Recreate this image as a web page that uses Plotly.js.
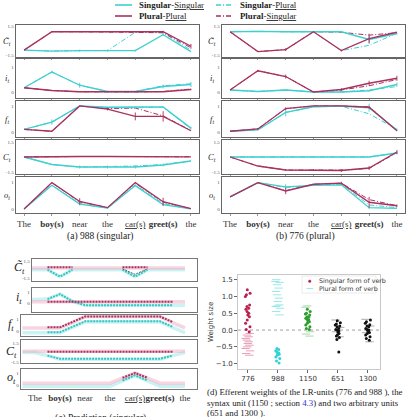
<!DOCTYPE html>
<html>
<head>
<meta charset="utf-8">
<script src="https://cdn.plot.ly/plotly-3.0.1.min.js"></script>
<style>html,body{margin:0;padding:0;background:#fff;overflow:hidden}</style>
</head>
<body>
<div id="fig" style="width:407px;height:417px"></div>
<script>
// ---------- sentence positions ----------
const words = ['The', '<b>boy(s)</b>', 'near', 'the', '<u>car(s)</u>', '<b>greet(s)</b>', 'the'];
const steps = [0, 1, 2, 3, 4, 5, 6];
const gateNames = ['<i>C\u0303<sub>t</sub></i>', '<i>i<sub>t</sub></i>', '<i>f<sub>t</sub></i>', '<i>C<sub>t</sub></i>', '<i>o<sub>t</sub></i>'];

// ---------- (a) unit 988 (singular) ----------
const aCtilSS = [-1.0, -1.1, -1.05, -1.05, -1.05, 0.6, -1.15];
const aCtilSP = [-1.0, -1.1, -1.05, -1.05, 0.85, 0.8, -1.0];
const aCtilPP = [-1.0, 0.9, 0.9, 0.9, 0.9, 0.9, -0.6];
const aCtilPS = [-1.0, 0.9, 0.9, 0.85, 0.85, 0.8, -0.75];
const aItSS = [0.17, 0.8, 0.27, 0.02, 0.02, 0.22, 0.3];
const aItSP = [0.17, 0.8, 0.27, 0.02, 0.02, 0.25, 0.33];
const aItPP = [0.17, 0.06, 0.01, 0.0, 0.0, 0.01, 0.1];
const aItPS = [0.17, 0.06, 0.01, 0.0, 0.0, 0.02, 0.12];
const aFtSS = [0.1, 0.38, 1.0, 0.95, 0.96, 0.96, 0.15];
const aFtSP = [0.1, 0.38, 1.0, 0.93, 0.93, 0.95, 0.12];
const aFtPP = [0.1, 0.03, 1.0, 0.88, 0.6, 0.6, 0.05];
const aFtPS = [0.1, 0.03, 1.0, 0.9, 0.92, 0.62, 0.06];
const aCtSS = [0.0, -0.75, -1.0, -1.0, -1.0, -0.8, -0.4];
const aCtSP = [0.0, -0.75, -1.0, -0.98, -0.9, -0.75, -0.38];
const aCtPP = [0.0, 0.05, 0.05, 0.05, 0.05, 0.05, 0.02];
const aCtPS = [0.0, 0.05, 0.05, 0.05, 0.03, 0.03, 0.02];
const aOtSS = [0.0, 0.88, 0.18, 0.03, 0.87, 0.16, 0.0];
const aOtSP = [0.0, 0.88, 0.2, 0.03, 0.9, 0.2, 0.0];
const aOtPP = [0.0, 0.98, 0.28, 0.05, 0.98, 0.27, 0.01];
const aOtPS = [0.0, 0.98, 0.26, 0.05, 0.96, 0.25, 0.01];
// spread of the solid curves
const aCtilErrSS = [0, 0, 0.12, 0.1, 0.1, 0.15, 0];
const aCtilErrPP = [0, 0, 0, 0, 0, 0.1, 0.25];
const aItErrSS = [0, 0.05, 0.1, 0, 0, 0.08, 0.1];
const aItErrPP = [0, 0, 0, 0, 0, 0, 0.03];
const aFtErrSS = [0, 0.1, 0, 0, 0, 0, 0.05];
const aFtErrPP = [0, 0, 0, 0.05, 0.15, 0.2, 0];
const aCtErrSS = [0, 0, 0.15, 0.15, 0.15, 0.15, 0];
const aCtErrPP = [0, 0, 0, 0, 0, 0, 0];
const aOtErrSS = [0, 0, 0.05, 0, 0, 0.05, 0];
const aOtErrPP = [0, 0, 0.12, 0, 0, 0.15, 0];

// ---------- (b) unit 776 (plural) ----------
const bCtilSS = [0.9, 0.95, 0.9, 0.9, 0.9, 0.1, 0.7];
const bCtilSP = [0.9, 0.95, 0.9, 0.9, -1.05, -0.5, 0.75];
const bCtilPP = [0.9, -1.15, -0.95, 0.9, -1.05, 0.2, 0.85];
const bCtilPS = [0.9, -1.15, -0.95, 0.9, 0.85, 0.55, 0.8];
const bItSS = [0.08, 0.02, 0.08, 0.0, 0.0, 0.05, 0.3];
const bItSP = [0.08, 0.02, 0.08, 0.0, 0.0, 0.08, 0.22];
const bItPP = [0.08, 0.85, 0.62, 0.0, 0.1, 0.35, 0.55];
const bItPS = [0.08, 0.85, 0.62, 0.0, 0.08, 0.25, 0.5];
const bFtSS = [0.03, 0.08, 0.75, 0.97, 0.99, 0.93, 0.08];
const bFtSP = [0.03, 0.08, 0.75, 0.97, 0.99, 0.7, 0.1];
const bFtPP = [0.03, 0.12, 0.9, 1.0, 1.0, 0.95, 0.05];
const bFtPS = [0.03, 0.12, 0.9, 1.0, 1.0, 0.97, 0.05];
const bCtSS = [0.0, 0.0, 0.0, 0.0, 0.0, 0.0, 0.4];
const bCtSP = [0.0, 0.0, 0.0, 0.0, 0.0, 0.02, 0.35];
const bCtPP = [0.0, -0.9, -1.3, -1.3, -1.35, -1.1, 0.5];
const bCtPS = [0.0, -0.9, -1.3, -1.3, -1.3, -1.15, 0.45];
const bOtSS = [0.45, 0.98, 0.82, 0.88, 0.9, 0.05, 0.02];
const bOtSP = [0.45, 0.98, 0.8, 0.88, 0.92, 0.15, 0.05];
const bOtPP = [0.45, 0.98, 0.67, 0.92, 0.96, 0.25, 0.12];
const bOtPS = [0.45, 0.98, 0.68, 0.92, 0.96, 0.35, 0.12];
const bCtilErrSS = [0, 0, 0, 0, 0, 0.4, 0.1];
const bCtilErrPP = [0, 0, 0.15, 0, 0.1, 0.5, 0];
const bItErrSS = [0, 0, 0.03, 0, 0, 0.04, 0.08];
const bItErrPP = [0, 0.04, 0.08, 0, 0.06, 0.1, 0.1];
const bFtErrSS = [0, 0, 0.15, 0, 0, 0.15, 0.05];
const bFtErrPP = [0, 0.03, 0.05, 0, 0, 0.05, 0];
const bCtErrSS = [0, 0, 0, 0, 0, 0, 0.15];
const bCtErrPP = [0, 0, 0.1, 0.1, 0.15, 0.2, 0.2];
const bOtErrSS = [0, 0, 0.1, 0, 0, 0.05, 0];
const bOtErrPP = [0, 0, 0.12, 0, 0.05, 0.2, 0.05];

// ---------- (c) predicted pattern (singular), half-word steps ----------
const cSteps = [-0.5, 0, 0.5, 1, 1.5, 2, 2.5, 3, 3.5, 4, 4.5, 5, 5.5, 6];
const cCtilPinkBase = [0.25, 0.25, 0.25, 0.25, 0.25, 0.25, 0.25, 0.25, 0.25, 0.25, 0.25, 0.25, 0.25, 0.25];
const cCtilCyanBase = [-0.05, -0.05, -0.05, -1.25, -0.05, -0.05, -0.05, -0.05, -0.05, -1.25, -0.05, -0.05, -0.05, -0.05];
const cCtilPlural = [null, null, 0.4, 0.4, 0.4, null, null, null, 0.4, 0.4, 0.4, null, null, null];
const cCtilSingular = [null, null, -0.05, -1.25, -0.05, null, null, null, -0.05, -1.25, -0.05, null, null, null];
const cCtilMixed = [null, null, null, null, null, null, null, null, 0.1, -0.85, 0.1, null, null, null];
const cItPinkBase = [0.1, 0.1, 0.1, 0.1, 0.1, 0.1, 0.1, 0.1, 0.1, 0.1, 0.1, 0.1, 0.1, 0.1];
const cItCyanBase = [0.3, 0.3, 0.35, 0.8, 0.15, -0.2, -0.2, -0.2, -0.2, -0.2, -0.2, -0.2, -0.2, -0.2];
const cItPlural = [null, null, 0.12, 0.12, 0.12, 0.12, 0.12, 0.12, 0.12, 0.12, 0.12, 0.12, 0.12, null];
const cItSingular = [null, null, 0.35, 0.8, 0.15, -0.2, -0.2, -0.2, -0.2, -0.2, -0.2, -0.2, -0.2, null];
const cFtPinkBase = [0.25, 0.25, 0.25, 0.25, 0.7, 1.2, 1.2, 1.2, 1.2, 1.2, 1.2, 1.2, 0.7, 0.25];
const cFtCyanBase = [-0.15, -0.15, -0.15, -0.15, 0.3, 0.75, 0.75, 0.75, 0.75, 0.75, 0.75, 0.75, 0.3, -0.15];
const cFtPlural = [null, null, 0.3, 0.3, 0.75, 1.2, 1.2, 1.2, 1.2, 1.2, 1.2, 1.2, 0.75, null];
const cFtSingular = [null, null, -0.1, -0.1, 0.35, 0.8, 0.8, 0.8, 0.8, 0.8, 0.8, 0.8, 0.35, null];
const cCtPinkBase = [0.2, 0.2, 0.2, 0.2, 0.2, 0.2, 0.2, 0.2, 0.2, 0.2, 0.2, 0.2, 0.2, 0.2];
const cCtCyanBase = [0, 0, -0.5, -1.05, -1.05, -1.05, -1.05, -1.05, -1.05, -1.05, -1.05, -1.05, -0.5, 0];
const cCtPlural = [null, null, 0.1, 0.1, 0.1, 0.1, 0.1, 0.1, 0.1, 0.1, 0.1, 0.1, 0.1, null];
const cCtSingular = [null, null, -0.5, -1.0, -1.0, -1.0, -1.0, -1.0, -1.0, -1.0, -1.0, -1.0, -0.5, null];
const cOtPinkBase = [0.15, 0.15, 0.15, 0.15, 0.15, 0.15, 0.15, 0.15, 0.58, 1.0, 0.58, 0.15, 0.15, 0.15];
const cOtCyanBase = [-0.1, -0.1, -0.1, -0.1, -0.1, -0.1, -0.1, -0.1, 0.35, 0.8, 0.35, -0.1, -0.1, -0.1];
const cOtPlural = [null, null, null, null, null, null, null, null, 0.6, 1.0, 0.6, null, null, null];
const cOtSingular = [null, null, null, null, null, null, null, null, 0.38, 0.8, 0.38, null, null, null];

// ---------- (d) efferent weights ----------
const dUnits = ['776', '988', '1150', '651', '1300'];
const d776Sing = [1.2, 1.1, 1.05, 1.0, 0.75, 0.7, 0.65, 0.62, 0.55, 0.5, 0.45, 0.4, 0.3, 0.2, 0.1, 0.02, -0.05];
const d776Plur = [-0.1, -0.15, -0.2, -0.25, -0.3, -0.35, -0.4, -0.45, -0.5, -0.55, -0.62, -0.7, -0.75];
const d988Sing = [-0.55, -0.58, -0.62, -0.65, -0.68, -0.7, -0.72, -0.75, -0.8, -0.85, -0.92, -0.98];
const d988Plur = [1.5, 1.45, 1.42, 1.35, 1.25, 1.15, 1.05, 0.95, 0.85, 0.75, 0.72, 0.7, 0.65, 0.55, 0.45];
const d1150Sing = [0.62, 0.55, 0.5, 0.48, 0.45, 0.4, 0.38, 0.35, 0.32, 0.3, 0.28, 0.25, 0.2, 0.15, 0.1, 0.05, 0.02];
const d1150Plur = [0.72, 0.68, -0.05, -0.12, -0.18];
const d651Sing = [0.28, 0.22, 0.18, 0.15, 0.12, 0.1, 0.05, 0.02, 0.0, -0.03, -0.06, -0.1, -0.14, -0.18, -0.22, -0.28, -0.65];
const d651Plur = [0.3, 0.08, -0.05, -0.2];
const d1300Sing = [0.3, 0.25, 0.2, 0.16, 0.12, 0.1, 0.05, 0.02, 0.0, -0.03, -0.07, -0.1, -0.15, -0.2, -0.25, -0.3];
const d1300Plur = [0.32, 0.12, -0.08, -0.35];

// ---------- drawing ----------
const W = 407, H = 417;
const px = v => v / W;
const py = v => 1 - v / H;
const SERIF = '"Liberation Serif", "DejaVu Serif", serif';
const SANS = '"DejaVu Sans", sans-serif';
const CYAN = '#3fcfcf';
const MAROON = '#a8315e';
const DASHDOT = '5px,2px,1px,2px';

const traces = [];
const layout = {
  width: W, height: H,
  margin: {l: 0, r: 0, t: 0, b: 0},
  paper_bgcolor: '#fff', plot_bgcolor: '#fff',
  showlegend: false, boxmode: 'overlay',
  shapes: [], annotations: []
};

let axisCount = 0;
function makeAxes(x0, x1, y0, y1, xr, yr, xopt, yopt) {
  axisCount++;
  const s = axisCount === 1 ? '' : String(axisCount);
  layout['xaxis' + s] = Object.assign({
    domain: [px(x0), px(x1)], range: xr, anchor: 'y' + s, showgrid: false, zeroline: false,
    showline: true, mirror: true, fixedrange: true, tickangle: 0
  }, xopt);
  layout['yaxis' + s] = Object.assign({
    domain: [py(y1), py(y0)], range: yr, anchor: 'x' + s, showgrid: false, zeroline: false,
    showline: true, mirror: true, fixedrange: true
  }, yopt);
  return {xa: 'x' + s, ya: 'y' + s};
}

function note(text, x, y, size, extra) {
  layout.annotations.push(Object.assign({
    text: text, x: px(x), y: py(y), xref: 'paper', yref: 'paper', showarrow: false,
    font: {family: SERIF, size: size, color: '#222'}, xanchor: 'center', yanchor: 'middle'
  }, extra || {}));
}

// --- gate panels (a) and (b) ---
const abRows = [
  {top: 25, bot: 57, yr: [-1.71, 1.60], tv: [-1.5, 1.5]},
  {top: 59, bot: 98, yr: [-0.24, 1.32], tv: [0, 1]},
  {top: 101, bot: 137, yr: [-0.19, 1.19], tv: [0, 1]},
  {top: 140, bot: 174, yr: [-1.7, 1.7], tv: [-1.5, 1.5]},
  {top: 177, bot: 213, yr: [-0.15, 1.19], tv: [0, 1]}
];
const panelA = [
  [aCtilSS, aCtilSP, aCtilPP, aCtilPS, aCtilErrSS, aCtilErrPP],
  [aItSS, aItSP, aItPP, aItPS, aItErrSS, aItErrPP],
  [aFtSS, aFtSP, aFtPP, aFtPS, aFtErrSS, aFtErrPP],
  [aCtSS, aCtSP, aCtPP, aCtPS, aCtErrSS, aCtErrPP],
  [aOtSS, aOtSP, aOtPP, aOtPS, aOtErrSS, aOtErrPP]
];
const panelB = [
  [bCtilSS, bCtilSP, bCtilPP, bCtilPS, bCtilErrSS, bCtilErrPP],
  [bItSS, bItSP, bItPP, bItPS, bItErrSS, bItErrPP],
  [bFtSS, bFtSP, bFtPP, bFtPS, bFtErrSS, bFtErrPP],
  [bCtSS, bCtSP, bCtPP, bCtPS, bCtErrSS, bCtErrPP],
  [bOtSS, bOtSP, bOtPP, bOtPS, bOtErrSS, bOtErrPP]
];

function gatePanel(data, left, right, labelX) {
  abRows.forEach((row, r) => {
    const last = r === abRows.length - 1;
    const ax = makeAxes(left, right, row.top, row.bot, [-0.29, 6.29], row.yr,
      {tickvals: steps, ticktext: words, showticklabels: last, ticks: 'outside', ticklen: 2,
       tickcolor: '#999', linecolor: '#666', linewidth: 1.3,
       tickfont: {family: SERIF, size: 9, color: '#333'}},
      {tickvals: row.tv, ticktext: row.tv.map(String), ticks: '', linecolor: '#666', linewidth: 1.3,
       tickfont: {family: SERIF, size: 5, color: '#555'}});
    const [ss, sp, pp, ps, ess, epp] = data[r];
    const base = {x: steps, xaxis: ax.xa, yaxis: ax.ya, mode: 'lines', hoverinfo: 'skip', cliponaxis: false};
    traces.push(Object.assign({}, base, {y: sp, line: {color: CYAN, width: 1, dash: DASHDOT}}));
    traces.push(Object.assign({}, base, {y: ps, line: {color: MAROON, width: 1, dash: DASHDOT}}));
    traces.push(Object.assign({}, base, {y: ss, line: {color: CYAN, width: 1.3},
      error_y: {type: 'data', array: ess, color: CYAN, thickness: 0.9, width: 0}}));
    traces.push(Object.assign({}, base, {y: pp, line: {color: MAROON, width: 1.3},
      error_y: {type: 'data', array: epp, color: MAROON, thickness: 0.9, width: 0}}));
    note(gateNames[r], labelX, (row.top + row.bot) / 2, 8.5);
  });
}
gatePanel(panelA, 16, 199, 7);
gatePanel(panelB, 222, 405, 212);
note('(a) 988 (singular)', 100, 236, 9.5);
note('(b) 776 (plural)', 305, 236, 9.5);

// --- predicted pattern (c) ---
const cRows = [
  {top: 259, bot: 281, left: 32, yr: [-2.03, 1.85], tv: [-1.5, 1.5], ly: 268},
  {top: 288, bot: 312, left: 32, yr: [-0.82, 1.36], tv: [0, 1], ly: 298},
  {top: 315, bot: 336, left: 21, yr: [-0.42, 1.33], tv: [0, 1], ly: 325},
  {top: 340, bot: 363, left: 21, yr: [-1.66, 1.97], tv: [-1.5, 1.5], ly: 352},
  {top: 369, bot: 389, left: 21, yr: [-0.33, 1.33], tv: [0, 1], ly: 378}
];
const panelC = [
  [cCtilPinkBase, cCtilCyanBase, cCtilPlural, cCtilSingular, cCtilMixed],
  [cItPinkBase, cItCyanBase, cItPlural, cItSingular, null],
  [cFtPinkBase, cFtCyanBase, cFtPlural, cFtSingular, null],
  [cCtPinkBase, cCtCyanBase, cCtPlural, cCtSingular, null],
  [cOtPinkBase, cOtCyanBase, cOtPlural, cOtSingular, null]
];
cRows.forEach((row, r) => {
  const last = r === cRows.length - 1;
  const ax = makeAxes(row.left, 197, row.top, row.bot, [(row.left - 35) / 25, (197 - 35) / 25], row.yr,
    {tickvals: steps, ticktext: words, showticklabels: last, ticks: '', linecolor: '#777', linewidth: 1.2,
     tickfont: {family: SERIF, size: 9, color: '#333'}},
    {tickvals: row.tv, ticktext: row.tv.map(String), ticks: '', linecolor: '#777', linewidth: 1.2,
     tickfont: {family: SERIF, size: 5, color: '#555'}});
  const [pinkBase, cyanBase, plural, singular, mixed] = panelC[r];
  const base = {x: cSteps, xaxis: ax.xa, yaxis: ax.ya, mode: 'lines', hoverinfo: 'skip', connectgaps: false};
  traces.push(Object.assign({}, base, {y: cyanBase, line: {color: 'rgba(150,232,232,0.5)', width: 3.5}}));
  traces.push(Object.assign({}, base, {y: pinkBase, line: {color: 'rgba(240,170,192,0.5)', width: 3.5}}));
  traces.push(Object.assign({}, base, {y: singular, line: {color: '#35c4c4', width: 2, dash: '2px,1px'}}));
  traces.push(Object.assign({}, base, {y: plural, line: {color: MAROON, width: 2, dash: '2px,1px'}}));
  if (mixed) traces.push(Object.assign({}, base, {y: mixed, line: {color: '#666', width: 1, dash: '2px,1px'}}));
  note(gateNames[r], r < 2 ? 19 : 11, row.ly, 12);
});
note('(c) Prediction (singular)', 100, 418, 9.5);

// --- efferent weights (d) ---
const ad = makeAxes(238, 380, 275, 369, [-0.33, 4.4], [-1.16, 1.64],
  {type: 'category', categoryorder: 'array', categoryarray: dUnits, showline: true, mirror: true,
   linecolor: '#bbb', linewidth: 0.8, ticks: 'outside', ticklen: 3, tickcolor: '#666',
   tickfont: {family: SANS, size: 7, color: '#333'}},
  {tickvals: [-1, -0.5, 0, 0.5, 1, 1.5], tickformat: '.1f', linecolor: '#bbb', linewidth: 0.8,
   ticks: 'outside', ticklen: 3, tickcolor: '#666', tickfont: {family: SANS, size: 7, color: '#333'}});
const dGroups = [
  [dUnits[0], d776Sing, d776Plur, '#b8204f', '#e8a0b8'],
  [dUnits[1], d988Sing, d988Plur, '#2fd3d6', '#9ae8e8'],
  [dUnits[2], d1150Sing, d1150Plur, '#2e9d2e', '#a8daa8'],
  [dUnits[3], d651Sing, d651Plur, '#111', '#aaa'],
  [dUnits[4], d1300Sing, d1300Plur, '#111', '#aaa']
];
layout.shapes.push({type: 'line', xref: ad.xa + ' domain', yref: ad.ya, x0: 0, x1: 1, y0: 0, y1: 0,
  line: {color: '#888', width: 0.8, dash: 'dot'}, layer: 'below'});
dGroups.forEach(([unit, sing, plur, dotColor, dashColor]) => {
  const boxBase = {type: 'box', xaxis: ad.xa, yaxis: ad.ya, boxpoints: 'all', jitter: 0.4, pointpos: 0,
    fillcolor: 'rgba(0,0,0,0)', line: {width: 0, color: 'rgba(0,0,0,0)'}, whiskerwidth: 0, hoverinfo: 'skip'};
  traces.push(Object.assign({}, boxBase, {x: plur.map(() => unit), y: plur,
    marker: {symbol: 'line-ew', size: 6, color: dashColor, line: {color: dashColor, width: 1}}}));
  traces.push(Object.assign({}, boxBase, {x: sing.map(() => unit), y: sing,
    marker: {symbol: 'circle', size: 3, color: dotColor}}));
});
note('Weight size', 211, 322, 7, {textangle: -90, font: {family: SANS, size: 7, color: '#333'}});

// legend for (d)
layout.shapes.push({type: 'rect', xref: 'paper', yref: 'paper', x0: px(302), x1: px(376), y0: py(293), y1: py(276),
  line: {color: '#ddd', width: 0.6}, fillcolor: 'rgba(255,255,255,0.8)'});
layout.shapes.push({type: 'circle', xref: 'paper', yref: 'paper', x0: px(308.5), x1: px(311), y0: py(282.5), y1: py(280),
  line: {color: '#b8204f', width: 0.5}, fillcolor: '#b8204f'});
layout.shapes.push({type: 'line', xref: 'paper', yref: 'paper', x0: px(306.5), x1: px(313), y0: py(288.5), y1: py(288.5),
  line: {color: '#9ae8e8', width: 1}});
note('Singular form of verb', 317, 281, 6.3, {xanchor: 'left', font: {family: SANS, size: 6.3, color: '#333'}});
note('Plural form of verb', 317, 288.5, 6.3, {xanchor: 'left', font: {family: SANS, size: 6.3, color: '#333'}});

// caption (d)
const capFont = {family: SERIF, size: 8.8, color: '#222'};
note('(d) Efferent weights of the LR-units (776 and 988 ), the', 205, 392, 8.8, {xanchor: 'left', font: capFont});
note('syntax unit (1150 ; section <span style="color:#3333cc">4.3</span>) and two arbitrary units', 205, 402.5, 8.8, {xanchor: 'left', font: capFont});
note('(651 and 1300 ).', 205, 413, 8.8, {xanchor: 'left', font: capFont});

// --- top legend ---
function swatch(x0, x1, y, color, dash) {
  layout.shapes.push({type: 'line', xref: 'paper', yref: 'paper', x0: px(x0), x1: px(x1), y0: py(y), y1: py(y),
    line: {color: color, width: 1.6, dash: dash}});
}
swatch(115, 132, 5, CYAN, 'solid');
swatch(216, 233, 5, CYAN, DASHDOT);
swatch(115, 132, 16, MAROON, 'solid');
swatch(216, 233, 16, MAROON, DASHDOT);
note('<b>Singular</b>-<u>Singular</u>', 137, 5, 8.8, {xanchor: 'left'});
note('<b>Singular</b>-<u>Plural</u>', 238, 5, 8.8, {xanchor: 'left'});
note('<b>Plural</b>-<u>Plural</u>', 137, 16, 8.8, {xanchor: 'left'});
note('<b>Plural</b>-<u>Singular</u>', 238, 16, 8.8, {xanchor: 'left'});

Plotly.newPlot('fig', traces, layout, {staticPlot: true, displayModeBar: false});
</script>
</body>
</html>
